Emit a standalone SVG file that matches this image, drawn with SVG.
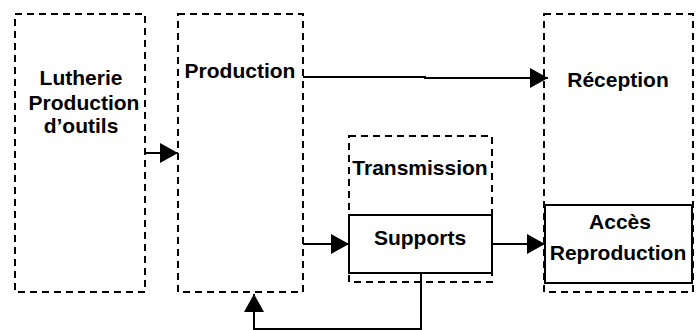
<svg xmlns="http://www.w3.org/2000/svg" width="700" height="330" viewBox="0 0 700 330">
<style>
.dash{fill:none;stroke:#000;stroke-width:2;stroke-dasharray:7 5}
.solid{fill:#fff;stroke:#000;stroke-width:2}
.lbl{font-family:"Liberation Sans",Arial,sans-serif;font-weight:bold;font-size:21px;fill:#000;text-anchor:middle}
.conn{fill:none;stroke:#000;stroke-width:2}
</style>
<defs>
<marker id="ah" markerUnits="userSpaceOnUse" markerWidth="18" markerHeight="20" refX="18" refY="10" orient="auto" viewBox="0 0 18 20">
<path d="M0,0 L18,10 L0,20 z" fill="#000"/>
</marker>
</defs>
<rect width="700" height="330" fill="#fff"/>
<g id="lutherie">
<rect class="dash" x="15" y="14" width="130" height="278"/>
<text class="lbl" x="81" y="85">Lutherie</text>
<text class="lbl" x="84" y="110">Production</text>
<text class="lbl" x="81" y="133">d’outils</text>
</g>
<g id="production">
<rect class="dash" x="178" y="14" width="125" height="278"/>
<text class="lbl" x="240" y="78">Production</text>
</g>
<g id="transmission">
<rect class="dash" x="349" y="136" width="143" height="146"/>
<text class="lbl" x="420" y="175">Transmission</text>
</g>
<g id="supports">
<rect class="solid" x="349" y="215" width="143" height="58"/>
<text class="lbl" x="420" y="245">Supports</text>
</g>
<g id="reception">
<rect class="dash" x="544" y="14" width="149" height="278"/>
<text class="lbl" x="618" y="87">Réception</text>
</g>
<g id="acces">
<rect class="solid" x="545" y="205" width="147" height="78"/>
<text class="lbl" x="620" y="229">Accès</text>
<text class="lbl" x="618" y="260">Reproduction</text>
</g>
<g id="connectors">
<path class="conn" d="M145,153 L178,153" marker-end="url(#ah)"/>
<path class="conn" d="M303,77 L425,77 L425,78 L548,78" marker-end="url(#ah)"/>
<path class="conn" d="M303,244 L349,244" marker-end="url(#ah)"/>
<path class="conn" d="M492,244 L545,244" marker-end="url(#ah)"/>
<path class="conn" d="M421,273 L421,329 L254,329 L254,294" marker-end="url(#ah)"/>
</g>
</svg>
